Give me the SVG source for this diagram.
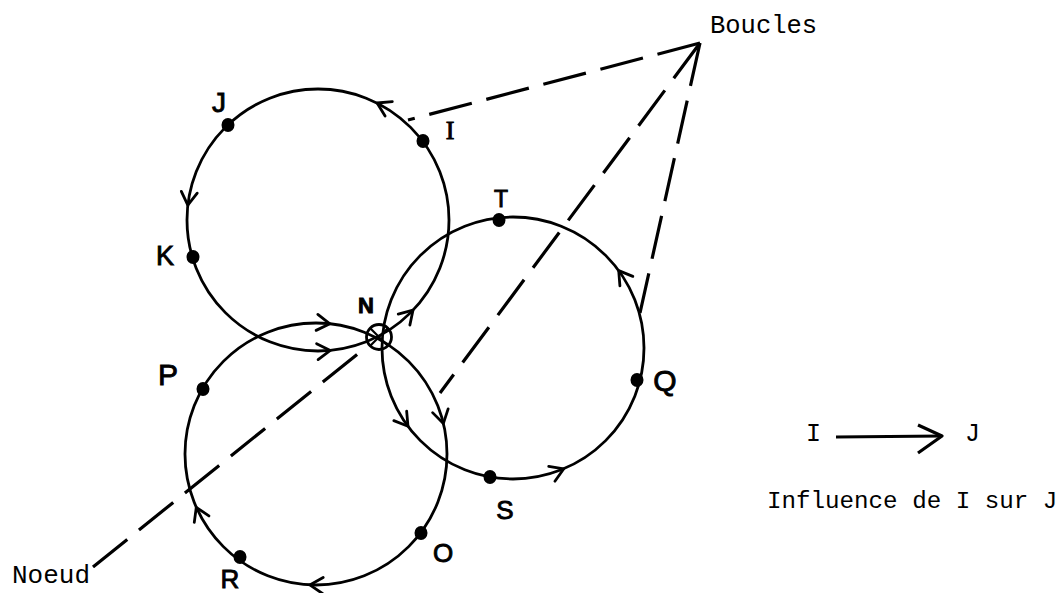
<svg xmlns="http://www.w3.org/2000/svg" width="1063" height="593" viewBox="0 0 1063 593">
<style>
.loop{fill:none;stroke:#000;stroke-width:2.8}
.dash{fill:none;stroke:#000;stroke-width:3.2;stroke-dasharray:44 15}
.chev{fill:none;stroke:#000;stroke-width:2.8;stroke-linecap:round;stroke-linejoin:round}
.dot{fill:#000}
.hand{font-family:"Liberation Sans",Arial,sans-serif;fill:#000;stroke:#000;stroke-width:0.9;text-anchor:middle}
.mono{font-family:"Liberation Mono","Courier New",monospace;fill:#000}
</style>
<defs>
<path id="chev" class="chev" d="M-13,-8 L0,0 L-13,8"/>
</defs>
<rect width="1063" height="593" fill="#fff"/>
<g id="connectors">
<path class="dash" d="M93,567 L370,344"/>
<path class="dash" d="M700,43 L408,120"/>
<path class="dash" d="M700,43 L440,393"/>
<path class="dash" d="M700,43 L640,313"/>
</g>
<g id="loop-1">
<circle class="loop" cx="318" cy="220" r="131"/>
<use href="#chev" transform="translate(377.1,103) rotate(-153.2)"/>
<use href="#chev" transform="translate(187.8,205.2) rotate(96.5)"/>
<use href="#chev" transform="translate(330.3,350.4) rotate(-5.4)"/>
<use href="#chev" transform="translate(413,310.2) rotate(-46.5)"/>
</g>
<g id="loop-2">
<circle class="loop" cx="316" cy="454" r="131"/>
<use href="#chev" transform="translate(329.9,323.8) rotate(6.1)"/>
<use href="#chev" transform="translate(443.4,423.4) rotate(76.5)"/>
<use href="#chev" transform="translate(309.8,584.9) rotate(182.7)"/>
<use href="#chev" transform="translate(196.3,507.3) rotate(-114)"/>
</g>
<g id="loop-3">
<circle class="loop" cx="513" cy="348" r="131"/>
<use href="#chev" transform="translate(408,426.3) rotate(53.3)"/>
<use href="#chev" transform="translate(563.8,468.8) rotate(-22.8)"/>
<use href="#chev" transform="translate(618.7,270.6) rotate(-126.2)"/>
</g>
<g id="node-N">
<circle cx="379" cy="337" r="12.5" fill="none" stroke="#000" stroke-width="2.8"/>
<path d="M370.5,328.5 L387.5,345.5 M387.5,328.5 L370.5,345.5" stroke="#000" stroke-width="2.2"/>
<text class="hand" x="366" y="313" font-size="22" font-weight="bold">N</text>
</g>
<g id="node-J"><ellipse class="dot" cx="228" cy="125" rx="6.5" ry="7"/><text class="hand" x="219" y="112" font-size="28">J</text></g>
<g id="node-I"><ellipse class="dot" cx="423" cy="141" rx="6.5" ry="7"/><text class="hand" x="450" y="139" font-size="26" style="font-family:'Liberation Serif',serif">I</text></g>
<g id="node-K"><ellipse class="dot" cx="193" cy="257" rx="6.5" ry="7"/><text class="hand" x="165" y="265" font-size="27">K</text></g>
<g id="node-T"><ellipse class="dot" cx="499" cy="220" rx="6.5" ry="7"/><text class="hand" x="501" y="207" font-size="23">T</text></g>
<g id="node-Q"><ellipse class="dot" cx="637" cy="380" rx="6.5" ry="7"/><text class="hand" x="665" y="391" font-size="30">Q</text></g>
<g id="node-S"><ellipse class="dot" cx="490" cy="477" rx="6.5" ry="7"/><text class="hand" x="505" y="519" font-size="26">S</text></g>
<g id="node-O"><ellipse class="dot" cx="421" cy="533" rx="6.5" ry="7"/><text class="hand" x="443" y="562" font-size="26">O</text></g>
<g id="node-R"><ellipse class="dot" cx="240" cy="557" rx="6.5" ry="7"/><text class="hand" x="230" y="588" font-size="26">R</text></g>
<g id="node-P"><ellipse class="dot" cx="203" cy="389" rx="6.5" ry="7"/><text class="hand" x="168" y="385" font-size="30">P</text></g>
<g id="label-boucles"><text class="mono" x="710" y="33" font-size="25.5">Boucles</text></g>
<g id="label-noeud"><text class="mono" x="12" y="583" font-size="26">Noeud</text></g>
<g id="legend">
<text class="mono" x="806" y="441" font-size="25">I</text>
<path d="M836,437 L942,436" stroke="#000" stroke-width="3" fill="none"/>
<path d="M918,425 L942,436 L918,453" stroke="#000" stroke-width="3.2" fill="none" stroke-linejoin="round"/>
<text class="mono" x="965" y="441" font-size="25">J</text>
<text class="mono" x="767" y="508" font-size="24.2">Influence de I sur J</text>
</g>
</svg>
